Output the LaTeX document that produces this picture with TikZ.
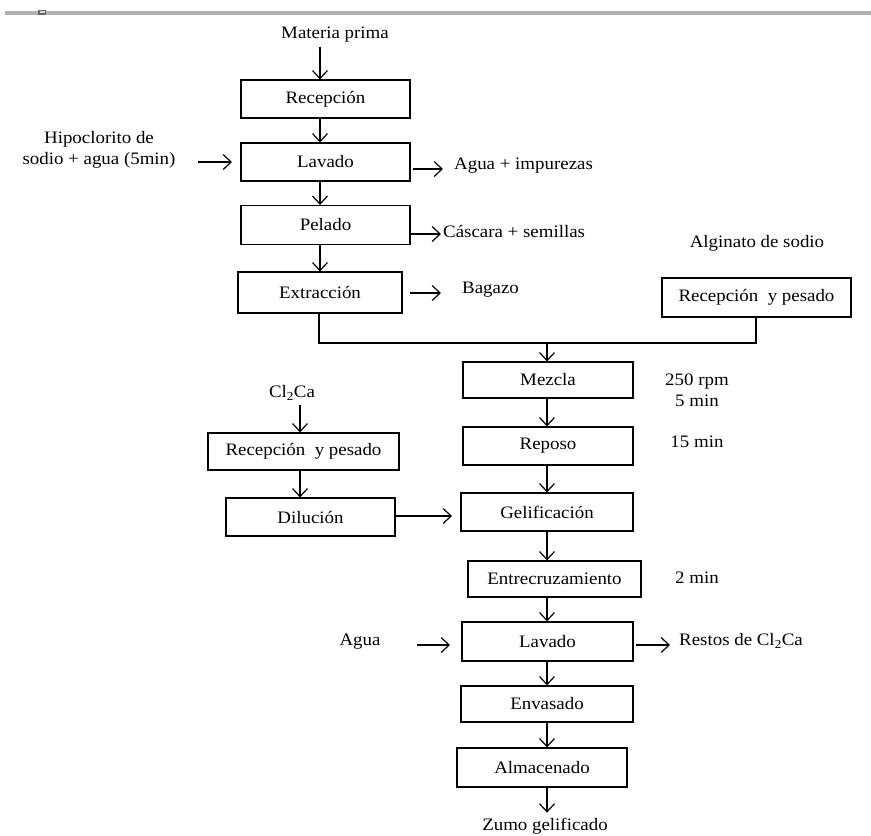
\documentclass[tikz,border=0pt]{standalone}
\usepackage{fontspec}
\setmainfont{Liberation Serif}[FakeStretch=1.08]
\usetikzlibrary{arrows.meta,calc}
\tikzset{
  box/.style={draw, line width=1.2pt, inner sep=0pt, font=\fontsize{17.5}{20}\selectfont},
  lbl/.style={inner sep=0pt, font=\fontsize{17.5}{21}\selectfont, align=center},
  arr/.style={line width=1.2pt, -{Straight Barb[length=8pt,width=15pt,line width=1.2pt]}},
  ln/.style={line width=1.2pt}
}
\begin{document}
\begin{tikzpicture}[x=1pt,y=1pt]
\useasboundingbox (0,0) rectangle (871,-836);
% top rule
\draw[draw=black!30, line width=3.5pt] (5,-13) -- (871,-13);
\fill[black!60] (38,-10) rectangle (46,-14.5);
\fill[black!15] (39.5,-10.8) rectangle (44.5,-13);

% left column
\node[lbl] (mp) at (335,-35) {Materia prima};
\node[box, minimum width=169pt, minimum height=38pt] (rec) at (325.5,-99) {Recepción};
\node[box, minimum width=169pt, minimum height=38pt] (lav) at (325.5,-162) {Lavado};
\node[box, minimum width=169pt, minimum height=39pt] (pel) at (325.5,-225) {Pelado};
\node[box, minimum width=164pt, minimum height=41pt] (ext) at (320,-292.5) {Extracción};

\node[lbl] (hip) at (99,-150) {Hipoclorito de\\sodio + agua (5min)};
\node[lbl, anchor=west] (aimp) at (454,-166) {Agua + impurezas};
\node[lbl, anchor=west] (casc) at (443,-231) {Cáscara + semillas};
\node[lbl, anchor=west] (bag) at (462,-290) {Bagazo};

% alginate
\node[lbl] (alg) at (757,-243) {Alginato de sodio};
\node[box, minimum width=189pt, minimum height=39pt] (algrec) at (756.5,-297.5) {Recepción\ \ y pesado};

% central column
\node[box, minimum width=170pt, minimum height=36pt] (mez) at (548,-380) {Mezcla};
\node[box, minimum width=170pt, minimum height=38pt] (rep) at (548,-446) {Reposo};
\node[box, minimum width=172pt, minimum height=38pt] (gel) at (547,-512) {Gelificación};
\node[box, minimum width=173pt, minimum height=36pt] (ent) at (554.5,-579) {Entrecruzamiento};
\node[box, minimum width=171pt, minimum height=39pt] (lav2) at (547.5,-641.5) {Lavado};
\node[box, minimum width=172pt, minimum height=36pt] (env) at (547,-704) {Envasado};
\node[box, minimum width=170pt, minimum height=39pt] (alm) at (542,-767.5) {Almacenado};
\node[lbl] (zumo) at (545,-826) {Zumo gelificado};

\node[lbl] (rpm) at (697,-390) {250 rpm\\5 min};
\node[lbl] (t15) at (697,-442) {15 min};
\node[lbl] (t2) at (697,-578) {2 min};
\node[lbl] (agua) at (360,-642) {Agua};
\node[lbl, anchor=west] (restos) at (679,-641) {Restos de Cl\textsubscript{2}Ca};

% calcium chloride branch
\node[lbl] (cl) at (292,-393) {Cl\textsubscript{2}Ca};
\node[box, minimum width=191pt, minimum height=37pt] (clrec) at (303.5,-451.5) {Recepción\ \ y pesado};
\node[box, minimum width=169pt, minimum height=38pt] (dil) at (310.5,-517) {Dilución};

% connectors: left column
\draw[arr] (mp.south -| 320,0) ++(0,-4) -- (rec.north -| 320,0);
\draw[arr] (rec.south -| 320,0) -- (lav.north -| 320,0);
\draw[arr] (lav.south -| 320,0) -- (pel.north -| 320,0);
\draw[arr] (pel.south -| 320,0) -- (ext.north -| 320,0);

\coordinate (hipe) at (198,-162);
\draw[arr] (hipe) -- (hipe -| 232,0);
\draw[arr] (lav.east |- 0,-169) ++(2,0) -- (443,-169);
\draw[arr] (pel.east |- 0,-234) -- (441,-234);
\draw[arr] (410,-293) -- (441,-293);

% join
\coordinate (jl) at (319,-343);
\coordinate (jr) at (756,-343);
\coordinate (jm) at (547,-343);
\draw[ln] (ext.south -| jl) -- (jl) -- (jr) -- (algrec.south -| jr);
\draw[arr] (jm) -- (mez.north -| jm);

% central connectors
\draw[arr] (mez.south -| jm) -- (rep.north -| jm);
\draw[arr] (rep.south -| jm) -- (gel.north -| jm);
\draw[arr] (gel.south -| jm) -- (ent.north -| jm);
\draw[arr] (ent.south -| jm) -- (lav2.north -| jm);
\draw[arr] (lav2.south -| jm) -- (env.north -| jm);
\draw[arr] (env.south -| jm) -- (alm.north -| jm);
\draw[arr] (alm.south -| jm) -- ++(0,-25);

% Cl2Ca branch
\draw[arr] (cl.south -| 300,0) ++(0,-4) -- (clrec.north -| 300,0);
\draw[arr] (clrec.south -| 300,0) -- (dil.north -| 300,0);
\draw[arr] (dil.east |- 0,-516) -- (452,-516);

% lavado 2
\draw[arr] (417,-645) -- (450,-645);
\draw[arr] (636,-645) -- (670,-645);
\end{tikzpicture}
\end{document}
